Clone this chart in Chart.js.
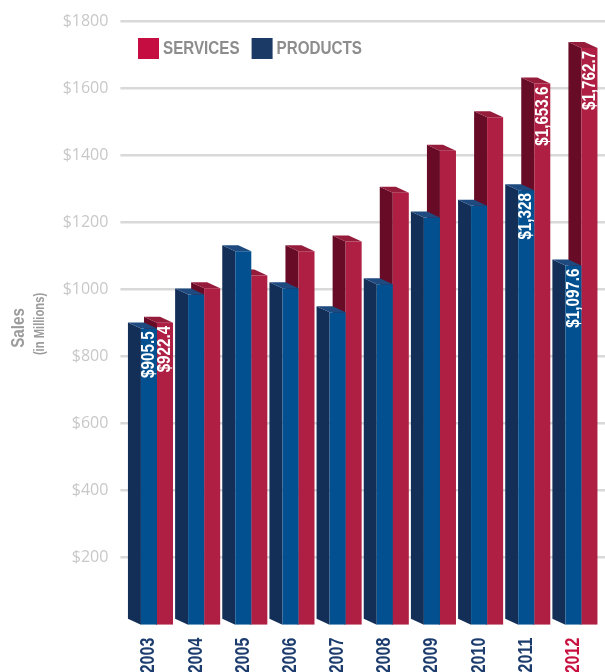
<!DOCTYPE html>
<html>
<head>
<meta charset="utf-8">
<script src="https://cdn.jsdelivr.net/npm/chart.js@4.4.1/dist/chart.umd.min.js"></script>
<style>
  html, body { margin: 0; padding: 0; background: #fff; }
  #wrap { width: 605px; height: 672px; }
</style>
</head>
<body>
<div id="wrap"><canvas id="salesChart"></canvas></div>
<script>
// chart data
const years = ['2003', '2004', '2005', '2006', '2007', '2008', '2009', '2010', '2011', '2012'];
const products = [905.5, 1009, 1141, 1028, 955, 1040, 1244, 1280, 1328, 1097.6];
const services = [922.4, 1028, 1067, 1141, 1171, 1320, 1448, 1551, 1653.6, 1762.7];
const yTicks = [200, 400, 600, 800, 1000, 1200, 1400, 1600, 1800];
const labelledYears = ['2003', '2011', '2012'];
const highlightYear = '2012';

// no condensed face installed -> squeeze Liberation Sans bold by hand
const NARROW = "'Liberation Sans', Arial, sans-serif";
const SQUEEZE = 0.8;

// depth of the fake 3d boxes
const DEPTH_X = 13;
const DEPTH_Y = 6;

function money(v) {
  return '$' + v.toLocaleString('en-US', { maximumFractionDigits: 1 });
}

function poly(ctx, pts, color) {
  ctx.beginPath();
  ctx.moveTo(pts[0][0], pts[0][1]);
  for (let i = 1; i < pts.length; i++) ctx.lineTo(pts[i][0], pts[i][1]);
  ctx.closePath();
  ctx.fillStyle = color;
  ctx.fill();
}

function narrowText(ctx, text, x, y, angle, font, color, align) {
  ctx.save();
  ctx.translate(x, y);
  ctx.rotate(angle);
  ctx.scale(SQUEEZE, 1);
  ctx.font = font;
  ctx.fillStyle = color;
  ctx.textAlign = align;
  ctx.textBaseline = 'middle';
  ctx.fillText(text, 0, 0);
  const w = ctx.measureText(text).width * SQUEEZE;
  ctx.restore();
  return w;
}

/**
 * Боковые и верхние грани столбиков (рисуются до самих столбиков)
 */
const boxes3d = {
  id: 'boxes3d',
  beforeDatasetsDraw(chart) {
    const ctx = chart.ctx;
    const order = [1, 0]; // services behind products
    ctx.save();
    years.forEach((y, i) => {
      order.forEach(d => {
        const ds = chart.data.datasets[d];
        const bar = chart.getDatasetMeta(d).data[i];
        const l = bar.x - bar.width / 2;
        const r = bar.x + bar.width / 2;
        poly(ctx, [[l, bar.y], [l - DEPTH_X, bar.y - DEPTH_Y], [l - DEPTH_X, bar.base - DEPTH_Y], [l, bar.base]], ds.sideColor);
        poly(ctx, [[l, bar.y], [r, bar.y], [r - DEPTH_X, bar.y - DEPTH_Y], [l - DEPTH_X, bar.y - DEPTH_Y]], ds.topColor);
      });
    });
    ctx.restore();
  },
  afterDatasetsDraw(chart) {
    const ctx = chart.ctx;
    years.forEach((y, i) => {
      if (!labelledYears.includes(y)) return;
      chart.data.datasets.forEach((ds, d) => {
        const bar = chart.getDatasetMeta(d).data[i];
        narrowText(ctx, money(ds.data[i]), bar.x, bar.y + 3, -Math.PI / 2, 'bold 19px ' + NARROW, '#ffffff', 'right');
      });
    });
  },
  afterDraw(chart) {
    const ctx = chart.ctx;
    const xs = chart.scales.x;

    // year labels under the bars
    years.forEach((y, i) => {
      const px = xs.getPixelForTick(i) - 8;
      const color = y === highlightYear ? '#c8103f' : '#1c3c6e';
      narrowText(ctx, y, px, chart.chartArea.bottom + 13, -Math.PI / 2, 'bold 20px ' + NARROW, color, 'right');
    });

    // legend
    let x = 138;
    [1, 0].forEach(d => {
      const ds = chart.data.datasets[d];
      ctx.fillStyle = ds.legendColor;
      ctx.fillRect(x, 38, 21, 21);
      const w = narrowText(ctx, ds.label, x + 25, 49, 0, 'bold 19px ' + NARROW, '#8d8d8d', 'left');
      x += 25 + w + 12;
    });

    // axis title
    narrowText(ctx, 'Sales', 19, 328, -Math.PI / 2, 'bold 19px ' + NARROW, '#9b9b9b', 'center');
    narrowText(ctx, '(in Millions)', 40, 324, -Math.PI / 2, 'bold 14px ' + NARROW, '#9b9b9b', 'center');
  }
};

const ctx = document.getElementById('salesChart');
const salesChart = new Chart(ctx, {
  type: 'bar',
  data: {
    labels: years,
    datasets: [
      {
        label: 'PRODUCTS',
        data: products,
        yAxisID: 'yBar',
        backgroundColor: '#02508f',
        sideColor: '#142f57',
        topColor: '#1e4a80',
        legendColor: '#1b3a66',
        borderWidth: 0
      },
      {
        label: 'SERVICES',
        data: services,
        yAxisID: 'yBar',
        backgroundColor: '#ae1f43',
        sideColor: '#670b26',
        topColor: '#961c3c',
        legendColor: '#c60d42',
        borderWidth: 0
      }
    ]
  },
  options: {
    responsive: true,
    maintainAspectRatio: false,
    animation: false,
    devicePixelRatio: 1,
    datasets: {
      bar: { categoryPercentage: 0.68, barPercentage: 1 }
    },
    layout: { padding: { top: 19, left: 0, right: 0, bottom: 0 } },
    plugins: {
      legend: { display: false },
      tooltip: { enabled: false }
    },
    scales: {
      x: {
        grid: { display: false, drawTicks: false },
        border: { display: false },
        ticks: { display: false, autoSkip: false },
        afterFit: s => { s.height = 47.3; }
      },
      y: {
        min: 0,
        max: 1800,
        afterBuildTicks: s => { s.ticks = yTicks.map(v => ({ value: v })); },
        border: { display: false },
        grid: { color: '#d9d9d9', lineWidth: 2.5, tickLength: 13 },
        ticks: {
          padding: 12,
          color: '#c8c8c8',
          font: { family: "'Open Sans', sans-serif", size: 16 },
          callback: v => '$' + v
        },
        afterFit: s => { s.width = 133.4; }
      },
      // bars sit a little lower than the back-wall gridlines because of the 3d depth
      yBar: {
        display: false,
        min: 0,
        max: 1843
      }
    }
  },
  plugins: [boxes3d]
});
</script>
</body>
</html>
